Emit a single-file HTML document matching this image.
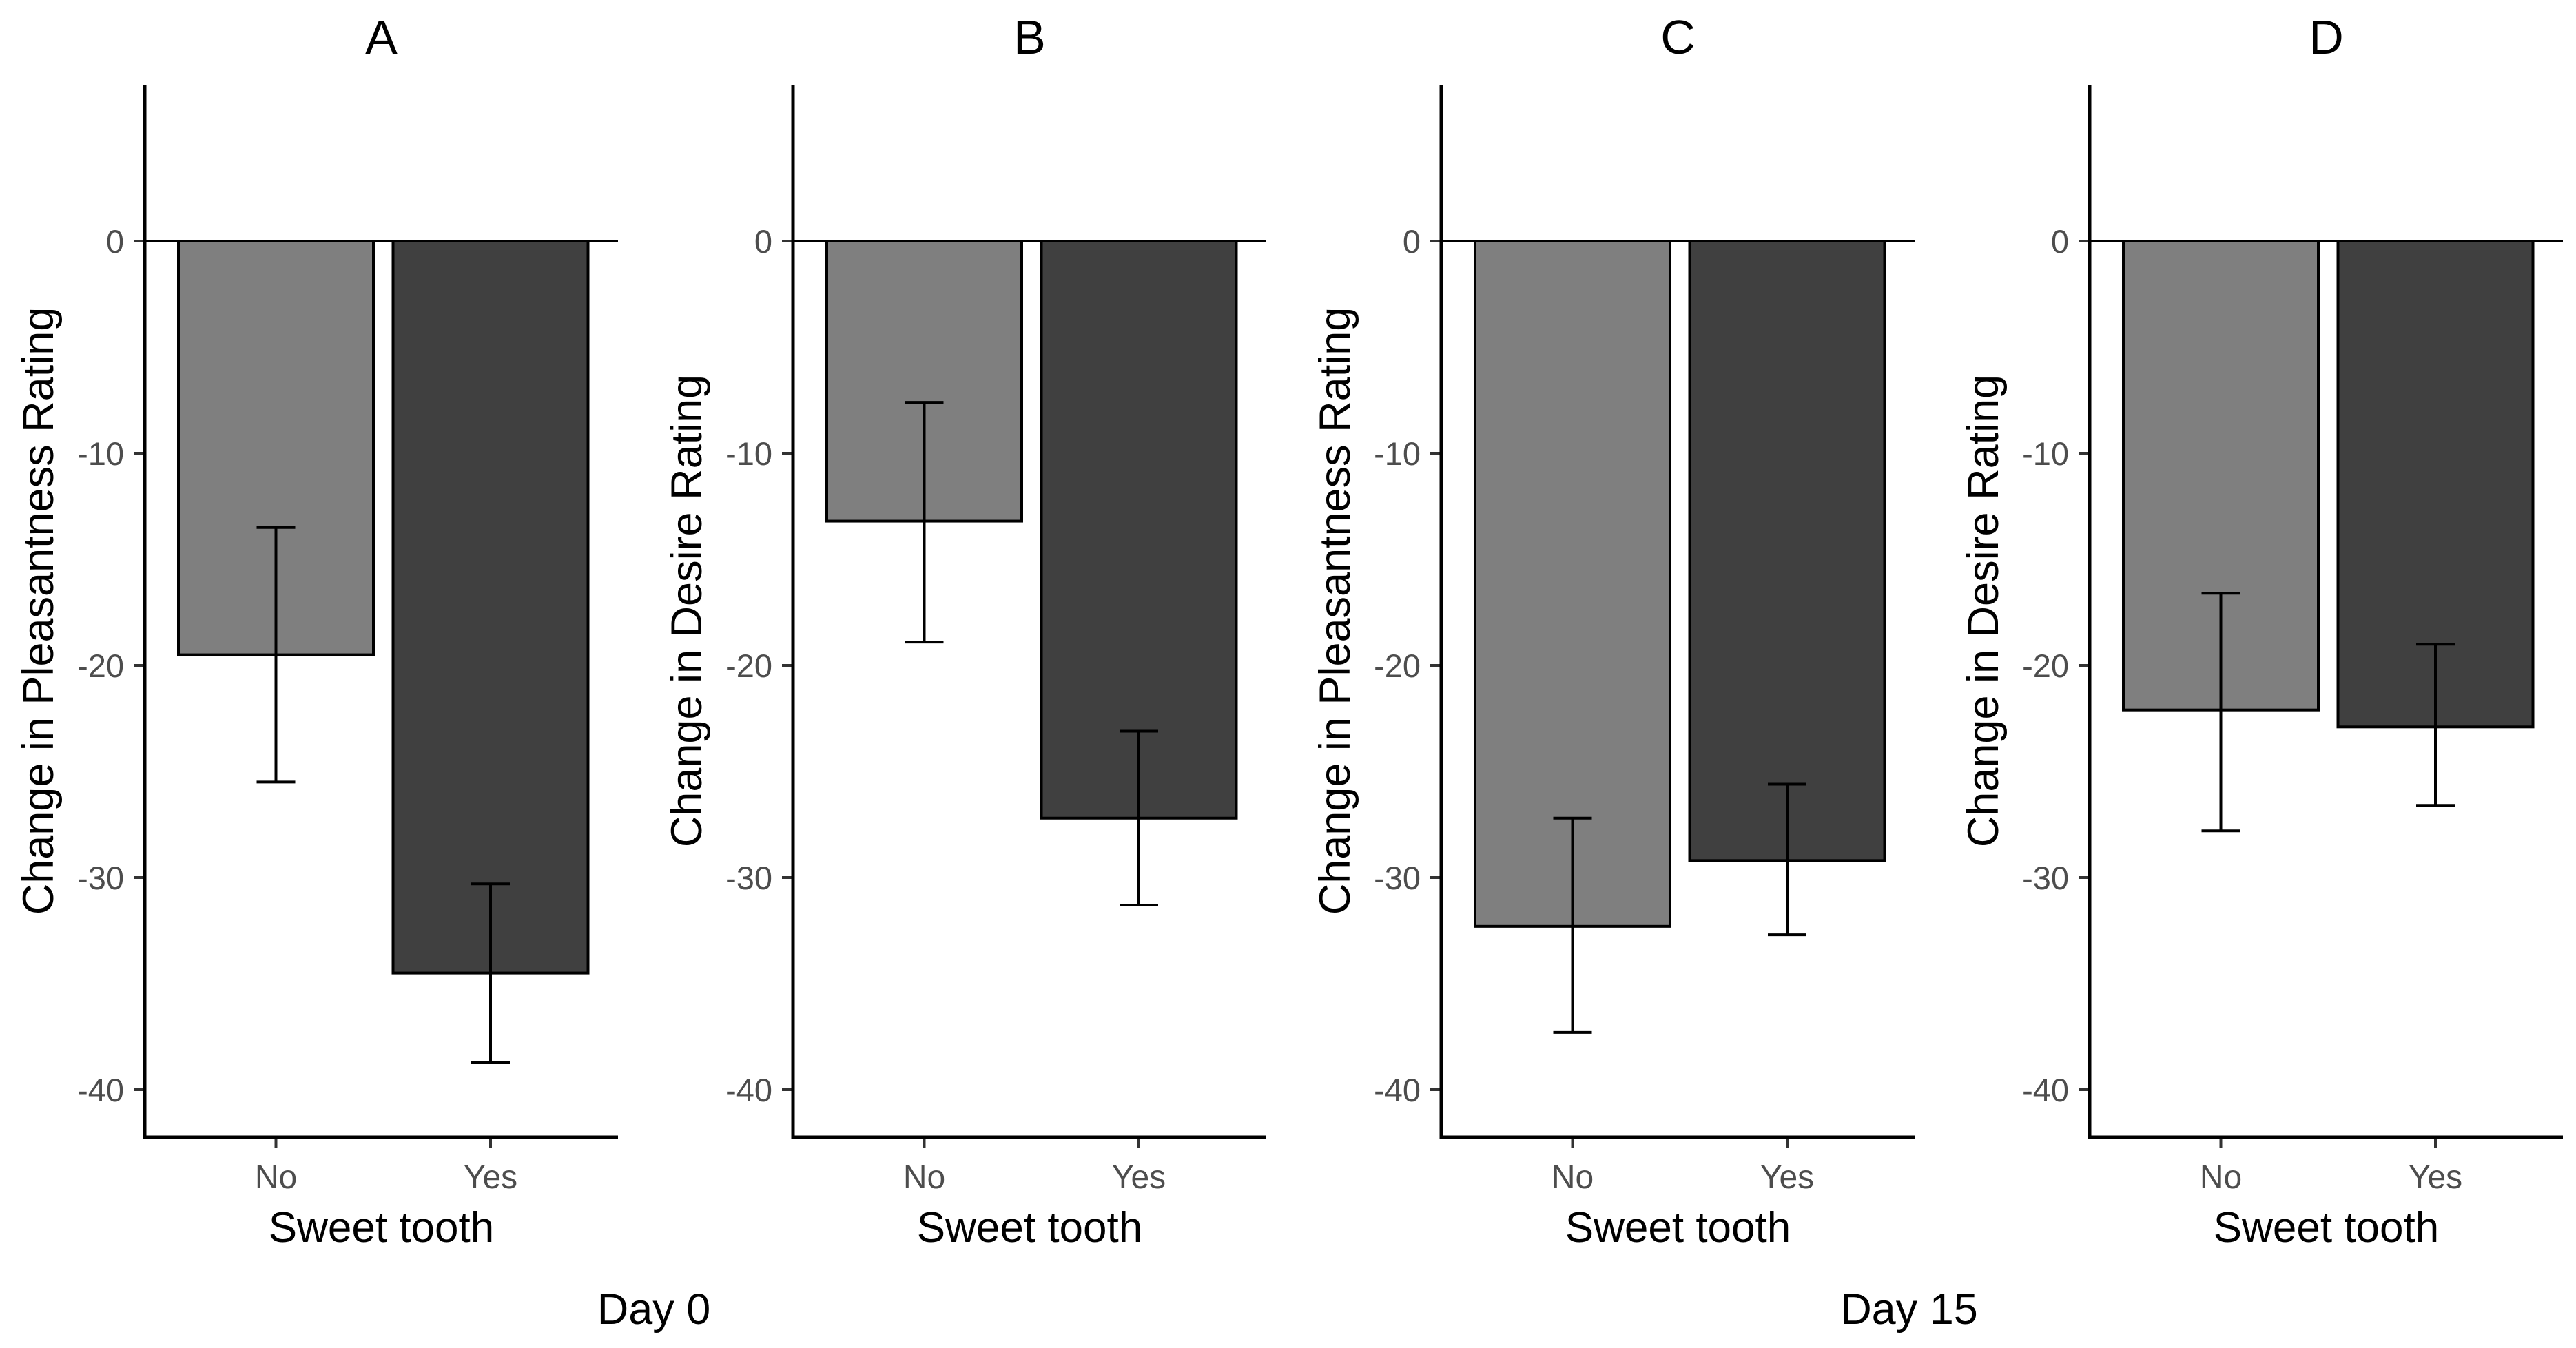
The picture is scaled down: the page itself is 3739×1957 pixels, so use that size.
<!DOCTYPE html>
<html><head><meta charset="utf-8"><style>
html,body{margin:0;padding:0;background:#fff;}
svg{display:block;font-family:"Liberation Sans",Arial,sans-serif;}
</style></head><body>
<svg id="chart" width="3739" height="1957" viewBox="0 0 3739 1957" xmlns="http://www.w3.org/2000/svg">
<rect width="3739" height="1957" fill="#fff"/>
<g id="panels"></g>
<text x="949" y="1922" font-size="63" text-anchor="middle" fill="#000">Day 0</text>
<text x="2771" y="1922" font-size="63" text-anchor="middle" fill="#000">Day 15</text>
</svg>
<script>
const panelTitles = ["A","B","C","D"];
const yTitles = ["Change in Pleasantness Rating","Change in Desire Rating","Change in Pleasantness Rating","Change in Desire Rating"];
const categories = ["No","Yes"];
const barValues = [[-19.5,-34.5],[-13.2,-27.2],[-32.3,-29.2],[-22.1,-22.9]];
const errLow = [[-25.5,-38.7],[-18.9,-31.3],[-37.3,-32.7],[-27.8,-26.6]];
const errHigh = [[-13.5,-30.3],[-7.6,-23.1],[-27.2,-25.6],[-16.6,-19.0]];
const yTicks = [0,-10,-20,-30,-40];
const fills = ["#7f7f7f","#404040"];

const NS="http://www.w3.org/2000/svg";
const root=document.getElementById('panels');
function mk(tag,attrs,parent){const e=document.createElementNS(NS,tag);for(const k in attrs)e.setAttribute(k,attrs[k]);parent.appendChild(e);return e;}
const panelX=[210,1151,2092,3033];
const W=687, TOP=124, BOT=1651;
function y(v){return 350-v*30.8;}
function xc(i){return [190.5,502][i];}
const bw=283, cap=28;
panelTitles.forEach((t,p)=>{
  const g=mk('g',{transform:`translate(${panelX[p]},0)`},root);
  
  
  const tt=mk('text',{x:W/2,y:78,'font-size':70,'text-anchor':'middle',fill:'#000'},g);tt.textContent=t;
  
  
  yTicks.forEach(v=>{
    const tk=mk('line',{x1:-16,x2:0,y1:y(v),y2:y(v),stroke:'#333','stroke-width':4},g);
    
    
    const lb=mk('text',{x:-30,y:y(v)+17,'font-size':47,'text-anchor':'end',fill:'#4d4d4d'},g);lb.textContent=v;
    
    
  });
  const yt=mk('text',{transform:`translate(-133,887) rotate(-90)`,'font-size':63,'text-anchor':'middle',fill:'#000'},g);
  yt.textContent=yTitles[p];
  
  
  categories.forEach((c,i)=>{
    const v=barValues[p][i];
    const r=mk('rect',{x:xc(i)-bw/2,y:y(0),width:bw,height:y(v)-y(0),fill:fills[i],stroke:'#000','stroke-width':4},g);
    
    
    const eg=mk('g',{stroke:'#000','stroke-width':4},g);
    
    
    mk('line',{x1:xc(i),x2:xc(i),y1:y(errHigh[p][i]),y2:y(errLow[p][i])},eg);
    mk('line',{x1:xc(i)-cap,x2:xc(i)+cap,y1:y(errHigh[p][i]),y2:y(errHigh[p][i])},eg);
    mk('line',{x1:xc(i)-cap,x2:xc(i)+cap,y1:y(errLow[p][i]),y2:y(errLow[p][i])},eg);
    const xt=mk('line',{x1:xc(i),x2:xc(i),y1:BOT,y2:BOT+16,stroke:'#333','stroke-width':4},g);
    
    
    const xl=mk('text',{x:xc(i),y:1725,'font-size':48,'text-anchor':'middle',fill:'#4d4d4d'},g);xl.textContent=c;
    
    
  });
  const zl=mk('line',{x1:0,x2:W,y1:y(0),y2:y(0),stroke:'#000','stroke-width':4},g);
  
  
  const ax=mk('path',{d:`M0,${TOP} V${BOT} H${W}`,fill:'none',stroke:'#000','stroke-width':5},g);
  
  
  const xtit=mk('text',{x:W/2,y:1803,'font-size':62,'text-anchor':'middle',fill:'#000'},g);xtit.textContent='Sweet tooth';
  
  
});
</script>
</body></html>
